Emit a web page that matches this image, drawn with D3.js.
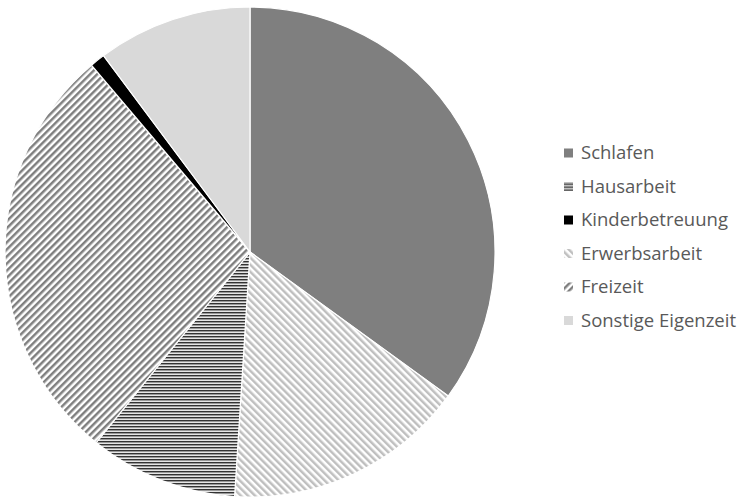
<!DOCTYPE html>
<html>
<head>
<meta charset="utf-8">
<script src="https://cdn.jsdelivr.net/npm/d3@7"></script>
<style>
  body { margin: 0; background: #fff; }
  svg { display: block; font-family: "Open Sans", "Liberation Sans", sans-serif; }
</style>
</head>
<body>
<div id="chart"></div>
<script>
// legend order
const categories = ["Schlafen", "Hausarbeit", "Kinderbetreuung", "Erwerbsarbeit", "Freizeit", "Sonstige Eigenzeit"];
// share of the day, percent
const values = [35.0, 9.8, 1.0, 16.0, 28.0, 10.2];
// order of the slices, clockwise from 12 o'clock
const pieOrder = ["Schlafen", "Erwerbsarbeit", "Hausarbeit", "Freizeit", "Kinderbetreuung", "Sonstige Eigenzeit"];

const width = 745, height = 498;
const cx = 250, cy = 252, radius = 245;

const svg = d3.select("#chart").append("svg")
  .attr("width", width).attr("height", height);

const defs = svg.append("defs");

// diagonal stripes
function stripes(id, color, angle, size, thick) {
  const p = defs.append("pattern")
    .attr("id", id)
    .attr("patternUnits", "userSpaceOnUse")
    .attr("width", size).attr("height", size)
    .attr("patternTransform", `rotate(${angle})`);
  p.append("rect").attr("width", size).attr("height", size).attr("fill", "#fff");
  p.append("rect").attr("width", thick).attr("height", size).attr("fill", color);
}
stripes("pat-erwerb", "#bfbfbf", -45, 5, 2.5);
stripes("pat-freizeit", "#7f7f7f", 45, 5, 2.5);

// horizontal lines for Hausarbeit
const hp = defs.append("pattern")
  .attr("id", "pat-haus")
  .attr("patternUnits", "userSpaceOnUse")
  .attr("width", 8).attr("height", 3);
hp.append("rect").attr("width", 8).attr("height", 3).attr("fill", "#999999");
hp.append("rect").attr("width", 8).attr("height", 1).attr("fill", "#333333");
hp.append("rect").attr("y", 2).attr("width", 8).attr("height", 1).attr("fill", "#e6e6e6");

const fills = {
  "Schlafen": "#7f7f7f",
  "Hausarbeit": "url(#pat-haus)",
  "Kinderbetreuung": "#000000",
  "Erwerbsarbeit": "url(#pat-erwerb)",
  "Freizeit": "url(#pat-freizeit)",
  "Sonstige Eigenzeit": "#d9d9d9"
};

const data = pieOrder.map(name => ({ name, value: values[categories.indexOf(name)] }));

const pie = d3.pie().sort(null).value(d => d.value);
const arc = d3.arc().innerRadius(0).outerRadius(radius);

svg.append("g")
  .attr("transform", `translate(${cx},${cy})`)
  .selectAll("path")
  .data(pie(data))
  .join("path")
  .attr("d", arc)
  .attr("fill", d => fills[d.data.name])
  .attr("stroke", "#fff")
  .attr("stroke-width", 1.2)
  .attr("stroke-linejoin", "round");

// legend
const legendX = 564, legendY = 153, rowH = 33.5;
const legend = svg.append("g")
  .selectAll("g")
  .data(categories)
  .join("g")
  .attr("transform", (d, i) => `translate(${legendX},${legendY + i * rowH})`);

legend.append("rect")
  .attr("x", 0).attr("y", -4.5)
  .attr("width", 9).attr("height", 9)
  .attr("fill", d => fills[d]);

legend.append("text")
  .attr("x", 17).attr("y", 0)
  .attr("dy", "0.35em")
  .attr("font-size", 18.5)
  .attr("fill", "#595959")
  .text(d => d);
</script>
</body>
</html>
